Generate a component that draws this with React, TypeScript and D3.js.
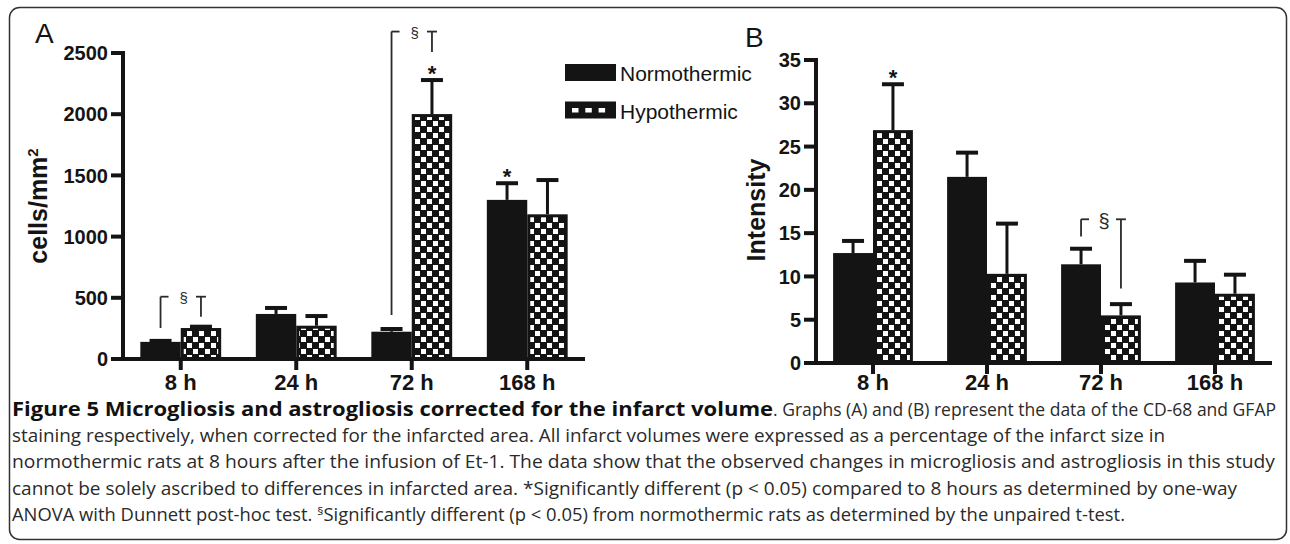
import React from "react";
import * as d3 from "d3";

const categories = ["8 h", "24 h", "72 h", "168 h"];
const seriesNames = ["Normothermic", "Hypothermic"];

// Panel A: cells/mm²
const cellsNormo = [140, 368, 223, 1300];
const cellsNormoErr = [8, 49, 22, 136];
const cellsHypo = [253, 272, 2001, 1182];
const cellsHypoErr = [11, 79, 278, 280];
const cellsTicks = [0, 500, 1000, 1500, 2000, 2500];

// Panel B: Intensity
const intNormo = [12.7, 21.5, 11.4, 9.3];
const intNormoErr = [1.4, 2.8, 1.8, 2.5];
const intHypo = [26.9, 10.3, 5.5, 8.0];
const intHypoErr = [5.3, 5.8, 1.3, 2.2];
const intTicks = [0, 5, 10, 15, 20, 25, 30, 35];

// significance marks: "*" vs 8 h (series index), "§" brackets vs normothermic
const cellsStars = [{ cat: "72 h", s: 1 }, { cat: "168 h", s: 0 }];
const intStars = [{ cat: "8 h", s: 1 }];
const cellsSig = [
  { cat: "8 h", top: 509, leftBottom: 253, rightBottom: 345 },
  { cat: "72 h", top: 2675, leftBottom: 360, rightBottom: 2508 },
];
const intSig = [{ cat: "72 h", top: 16.6, leftBottom: 14.6, rightBottom: 8.6 }];

const FONT = "'Liberation Sans', Arial, Helvetica, sans-serif";
const INK = "#141414";

type PanelProps = {
  xRange: [number, number];
  yRange: [number, number];
  ticks: number[];
  normo: number[];
  normoErr: number[];
  hypo: number[];
  hypoErr: number[];
  stars: { cat: string; s: number }[];
  sig: { cat: string; top: number; leftBottom: number; rightBottom: number }[];
  sigFont: number;
  sigWeight: string | number;
  sigStroke: number;
  letter: string;
  letterPos: [number, number];
  yTitle: React.ReactNode;
  yTitlePos: [number, number];
  xLabelY: number;
};

function Panel(p: PanelProps) {
  const x0 = d3
    .scaleBand<string>()
    .domain(categories)
    .range(p.xRange)
    .paddingInner(0.3)
    .paddingOuter(0.15);
  const x1 = d3.scaleBand<string>().domain(seriesNames).range([0, x0.bandwidth()]);
  const y = d3
    .scaleLinear()
    .domain([0, p.ticks[p.ticks.length - 1]])
    .range(p.yRange);
  const yBase = y(0);
  const axX = p.xRange[0];
  const vals = [p.normo, p.hypo];
  const errs = [p.normoErr, p.hypoErr];
  const barCenter = (cat: string, s: number) =>
    (x0(cat) as number) + (x1(seriesNames[s]) as number) + x1.bandwidth() / 2;

  return (
    <g>
      {/* bars */}
      {categories.map((c, i) => (
        <g key={c}>
          <rect
            x={(x0(c) as number) + (x1(seriesNames[0]) as number)}
            y={y(p.normo[i])}
            width={x1.bandwidth()}
            height={yBase - y(p.normo[i])}
            fill={INK}
          />
          <rect
            x={(x0(c) as number) + (x1(seriesNames[1]) as number) + 1.5}
            y={y(p.hypo[i]) + 1.5}
            width={x1.bandwidth() - 3}
            height={yBase - y(p.hypo[i]) - 1.5}
            fill="url(#checker)"
            stroke={INK}
            strokeWidth={3}
          />
        </g>
      ))}
      {/* error bars */}
      {categories.map((c, i) =>
        [0, 1].map((s) => {
          const cx = barCenter(c, s);
          const top = y(vals[s][i] + errs[s][i]);
          return (
            <g key={c + s}>
              <line x1={cx} x2={cx} y1={y(vals[s][i])} y2={top} stroke={INK} strokeWidth={3} />
              <line x1={cx - 11} x2={cx + 11} y1={top} y2={top} stroke={INK} strokeWidth={4} />
            </g>
          );
        })
      )}
      {/* stars */}
      {p.stars.map((st) => {
        const i = categories.indexOf(st.cat);
        const top = y(vals[st.s][i] + errs[st.s][i]);
        return (
          <text
            key={st.cat + st.s}
            x={barCenter(st.cat, st.s)}
            y={top + 1}
            textAnchor="middle"
            fontFamily={FONT}
            fontWeight="bold"
            fontSize={22}
            fill={INK}
          >
            *
          </text>
        );
      })}
      {/* § brackets */}
      {p.sig.map((sg) => {
        const lx = barCenter(sg.cat, 0);
        const rx = barCenter(sg.cat, 1);
        const ty = y(sg.top);
        return (
          <g key={"sig" + sg.cat} stroke="#2a2a2a" strokeWidth={p.sigStroke} fill="none">
            <line x1={lx} x2={lx} y1={ty} y2={y(sg.leftBottom)} />
            <line x1={lx} x2={lx + 8} y1={ty} y2={ty} />
            <line x1={rx} x2={rx} y1={ty} y2={y(sg.rightBottom)} />
            <line x1={rx - 5} x2={rx + 5} y1={ty} y2={ty} />
            <text
              x={(lx + rx) / 2 + 3}
              y={ty + p.sigFont * 0.45}
              textAnchor="middle"
              fontFamily={FONT}
              fontWeight={p.sigWeight}
              fontSize={p.sigFont}
              fill="#2a2a2a"
              stroke="none"
            >
              §
            </text>
          </g>
        );
      })}
      {/* y axis */}
      <line x1={axX} x2={axX} y1={y(p.ticks[p.ticks.length - 1]) - 2} y2={yBase + 2} stroke={INK} strokeWidth={4} />
      {p.ticks.map((t) => (
        <g key={"t" + t}>
          <line x1={axX - 12} x2={axX} y1={y(t)} y2={y(t)} stroke={INK} strokeWidth={4} />
          <text
            x={axX - 15}
            y={y(t)}
            dy="0.36em"
            textAnchor="end"
            fontFamily={FONT}
            fontWeight="bold"
            fontSize={20}
            fill={INK}
          >
            {t}
          </text>
        </g>
      ))}
      {/* x axis */}
      <line x1={axX - 12} x2={p.xRange[1]} y1={yBase} y2={yBase} stroke={INK} strokeWidth={4} />
      {categories.map((c) => {
        const cx = (x0(c) as number) + x0.bandwidth() / 2;
        return (
          <g key={"x" + c}>
            <line x1={cx} x2={cx} y1={yBase} y2={yBase + 11} stroke={INK} strokeWidth={4} />
            <text
              x={cx}
              y={p.xLabelY}
              textAnchor="middle"
              fontFamily={FONT}
              fontWeight="bold"
              fontSize={22}
              fill={INK}
            >
              {c}
            </text>
          </g>
        );
      })}
      {/* panel letter */}
      <text x={p.letterPos[0]} y={p.letterPos[1]} fontFamily={FONT} fontSize={28} fill={INK}>
        {p.letter}
      </text>
      {/* y title */}
      <text
        transform={`translate(${p.yTitlePos[0]},${p.yTitlePos[1]}) rotate(-90)`}
        textAnchor="middle"
        fontFamily={FONT}
        fontWeight="bold"
        fontSize={25}
        fill={INK}
      >
        {p.yTitle}
      </text>
    </g>
  );
}

const CAP_FONT = "'Open Sans', 'Noto Sans', sans-serif";

export default function App() {
  return (
    <svg
      width={1290}
      height={544}
      style={{ position: "absolute", left: 0, top: 0, background: "#fff" }}
    >
      <defs>
        <pattern id="checker" patternUnits="userSpaceOnUse" width={12} height={12}>
          <rect width={12} height={12} fill={INK} />
          <rect x={1} y={1} width={5} height={5} fill="#fff" />
          <rect x={7} y={7} width={5} height={5} fill="#fff" />
        </pattern>
      </defs>
      <rect x={0} y={0} width={1290} height={544} fill="#fff" />
      <rect x={9.5} y={7.5} width={1277} height={532} rx={10} fill="none" stroke="#333" strokeWidth={1.5} />

      <Panel
        xRange={[123, 585]}
        yRange={[359, 53]}
        ticks={cellsTicks}
        normo={cellsNormo}
        normoErr={cellsNormoErr}
        hypo={cellsHypo}
        hypoErr={cellsHypoErr}
        stars={cellsStars}
        sig={cellsSig}
        sigFont={15}
        sigWeight="normal"
        sigStroke={1.8}
        letter="A"
        letterPos={[35, 43]}
        yTitle={
          <>
            cells/mm
            <tspan dy={-9} fontSize={15}>2</tspan>
          </>
        }
        yTitlePos={[47, 206]}
        xLabelY={390}
      />
      <Panel
        xRange={[816, 1272]}
        yRange={[363, 60]}
        ticks={intTicks}
        normo={intNormo}
        normoErr={intNormoErr}
        hypo={intHypo}
        hypoErr={intHypoErr}
        stars={intStars}
        sig={intSig}
        sigFont={20}
        sigWeight="normal"
        sigStroke={1.8}
        letter="B"
        letterPos={[745, 47]}
        yTitle="Intensity"
        yTitlePos={[765, 210]}
        xLabelY={390}
      />

      {/* legend */}
      <g fontFamily={FONT} fontSize={21} fill={INK}>
        <rect x={565} y={64} width={51} height={17} fill={INK} />
        <text x={620} y={81}>{seriesNames[0]}</text>
        <rect x={565} y={101.5} width={51} height={17} fill={INK} />
        {[0, 1, 2].map((k) => (
          <rect key={k} x={572 + k * 13.3} y={108} width={6.5} height={4.5} fill="#fff" />
        ))}
        <text x={620} y={118.5}>{seriesNames[1]}</text>
      </g>

      {/* caption */}
      <g fontFamily={CAP_FONT} fontSize={17.5} fill="#2a2a2a">
        <text x={12} y={416} textLength={761} lengthAdjust="spacingAndGlyphs" fontWeight="bold" fontSize={19} fill="#111">
          Figure 5 Microgliosis and astrogliosis corrected for the infarct volume
        </text>
        <text x={773} y={416} textLength={503} lengthAdjust="spacingAndGlyphs">
          . Graphs (A) and (B) represent the data of the CD-68 and GFAP
        </text>
        <text x={12} y={442} textLength={1153} lengthAdjust="spacingAndGlyphs">
          staining respectively, when corrected for the infarcted area. All infarct volumes were expressed as a percentage of the infarct size in
        </text>
        <text x={12} y={468} textLength={1263} lengthAdjust="spacingAndGlyphs">
          normothermic rats at 8 hours after the infusion of Et-1. The data show that the observed changes in microgliosis and astrogliosis in this study
        </text>
        <text x={12} y={494.5} textLength={1225} lengthAdjust="spacingAndGlyphs">
          cannot be solely ascribed to differences in infarcted area. *Significantly different (p &lt; 0.05) compared to 8 hours as determined by one-way
        </text>
        <text x={12} y={521} textLength={1113} lengthAdjust="spacingAndGlyphs">
          ANOVA with Dunnett post-hoc test.{" "}
          <tspan dy={-6} fontSize={11.5}>§</tspan>
          <tspan dy={6}>Significantly different (p &lt; 0.05) from normothermic rats as determined by the unpaired t-test.</tspan>
        </text>
      </g>
    </svg>
  );
}
